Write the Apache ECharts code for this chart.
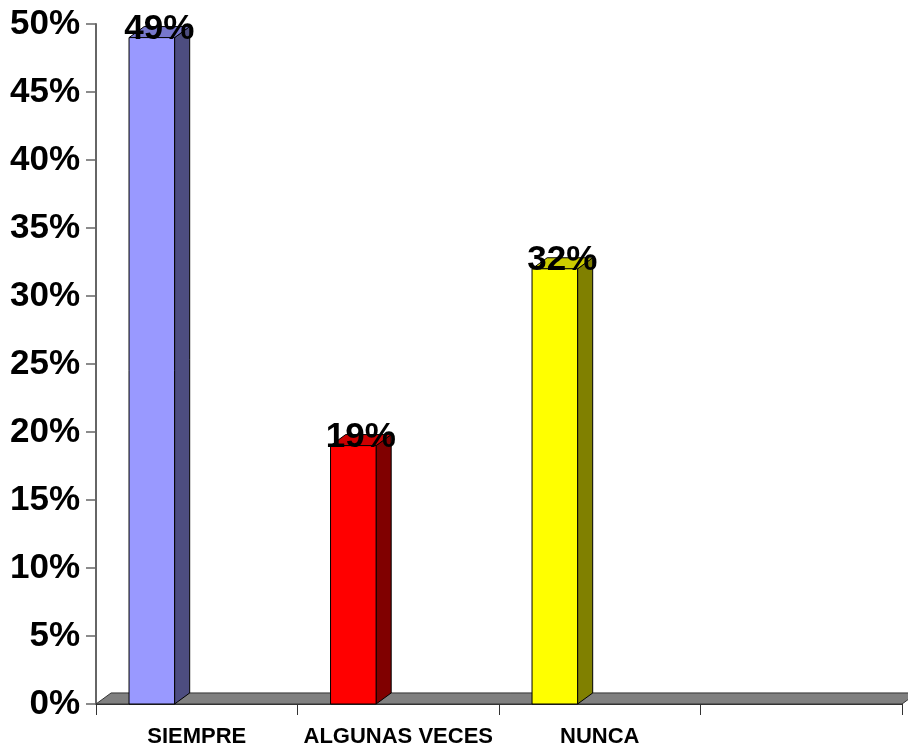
<!DOCTYPE html>
<html>
<head>
<meta charset="utf-8">
<script src="https://cdn.jsdelivr.net/npm/echarts@6/dist/echarts.min.js"></script>
<style>
  html, body { margin: 0; padding: 0; background: #ffffff; }
  #chart { width: 908px; height: 751px; }
</style>
</head>
<body>
<div id="chart"></div>
<script>
// Survey answers and their share of responses (percent)
const categories = ['SIEMPRE', 'ALGUNAS VECES', 'NUNCA', ''];
const percentages = [49, 19, 32];

// Value axis range
const axisMin = 0;
const axisMax = 50;
const axisStep = 5;

// Face colours of each 3D column: front, top, side
const frontColors = ['#9999FF', '#FF0000', '#FFFF00'];
const topColors = ['#7777CC', '#CC0000', '#CCCC00'];
const sideColors = ['#4D4D80', '#800000', '#808000'];

const FONT = '"Liberation Sans", Arial, Helvetica, sans-serif';

const chart = echarts.init(document.getElementById('chart'), null, { renderer: 'canvas' });

// depth of the pseudo-3D extrusion, relative to a category band
function depth(band) {
  const dx = band * 0.075;
  return [dx, dx * 0.73];
}

function renderFloor(params, api) {
  const cs = params.coordSys;
  const band = api.size([1, 0])[0];
  const [dx, dy] = depth(band);
  const yb = cs.y + cs.height;
  return {
    type: 'polygon',
    shape: {
      points: [
        [cs.x, yb],
        [cs.x + cs.width, yb],
        [cs.x + cs.width + dx, yb - dy],
        [cs.x + dx, yb - dy]
      ]
    },
    style: { fill: '#808080', stroke: '#333333', lineWidth: 1 }
  };
}

function renderColumn(params, api) {
  const idx = api.value(0);
  const val = api.value(1);
  const base = api.coord([idx, 0]);
  const top = api.coord([idx, val]);
  const band = api.size([1, 0])[0];
  const [dx, dy] = depth(band);
  const w = band * 0.226;
  const x0 = base[0] - band * 0.336;
  const yT = top[1];
  const yB = base[1];
  const i = params.dataIndex;
  const edge = { stroke: '#000000', lineWidth: 1 };
  return {
    type: 'group',
    children: [
      {
        type: 'polygon',
        shape: { points: [[x0 + w, yT], [x0 + w + dx, yT - dy], [x0 + w + dx, yB - dy], [x0 + w, yB]] },
        style: Object.assign({ fill: sideColors[i] }, edge)
      },
      {
        type: 'polygon',
        shape: { points: [[x0, yT], [x0 + dx, yT - dy], [x0 + w + dx, yT - dy], [x0 + w, yT]] },
        style: Object.assign({ fill: topColors[i] }, edge)
      },
      {
        type: 'rect',
        shape: { x: x0, y: yT, width: w, height: yB - yT },
        style: Object.assign({ fill: frontColors[i] }, edge)
      },
      {
        type: 'text',
        x: x0 + (w + dx) / 2,
        y: yT - 8,
        style: {
          text: val + '%',
          fill: '#000000',
          font: 'bold 35px ' + FONT,
          align: 'center',
          verticalAlign: 'middle'
        }
      }
    ]
  };
}

chart.setOption({
  animation: false,
  backgroundColor: '#ffffff',
  grid: { left: 96, right: 6, top: 24, bottom: 47, containLabel: false },
  xAxis: {
    type: 'category',
    data: categories,
    boundaryGap: true,
    axisLine: { show: true, lineStyle: { color: '#333333', width: 1 } },
    axisTick: { show: true, length: 11, interval: 0, lineStyle: { color: '#333333' } },
    axisLabel: {
      interval: 0,
      margin: 22,
      color: '#000000',
      fontWeight: 'bold',
      fontSize: 22,
      fontFamily: FONT
    },
    splitLine: { show: false }
  },
  yAxis: {
    type: 'value',
    min: axisMin,
    max: axisMax,
    interval: axisStep,
    axisLine: { show: true, lineStyle: { color: '#666666', width: 2 } },
    axisTick: { show: true, length: 10, lineStyle: { color: '#666666', width: 1.5 } },
    axisLabel: {
      margin: 16,
      color: '#000000',
      fontWeight: 'bold',
      fontSize: 35,
      fontFamily: FONT,
      padding: [6, 0, 0, 0],
      formatter: '{value}%'
    },
    splitLine: { show: false }
  },
  series: [
    {
      type: 'custom',
      name: 'floor',
      z: 1,
      silent: true,
      renderItem: renderFloor,
      data: [[0, 0]]
    },
    {
      type: 'custom',
      name: 'Respuestas',
      z: 3,
      renderItem: renderColumn,
      encode: { x: 0, y: 1 },
      data: percentages.map((v, i) => [i, v])
    }
  ]
});
</script>
</body>
</html>
